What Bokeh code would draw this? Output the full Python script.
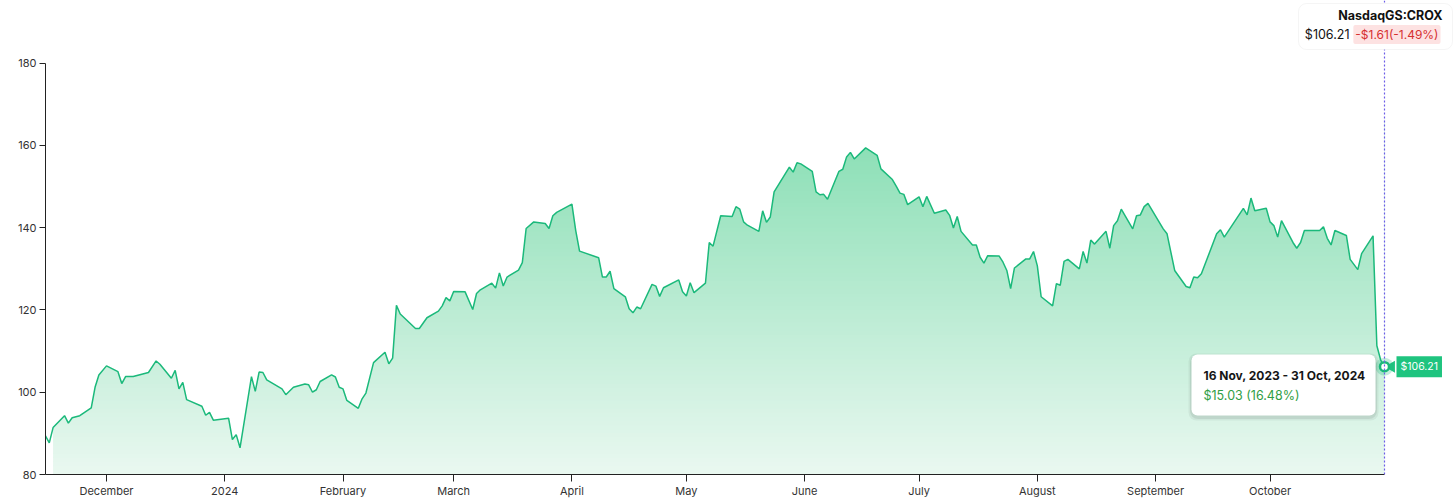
from datetime import datetime, timedelta
import numpy as np
from bokeh.plotting import figure
from bokeh.models import ColumnDataSource, Range1d, FixedTicker, Span, Label, BoxAnnotation
from bokeh.embed import file_html
from bokeh.resources import INLINE

# ---------------- data ----------------
dates = [
    "2023-11-15", "2023-11-16", "2023-11-17", "2023-11-20", "2023-11-21", "2023-11-22", "2023-11-24",
    "2023-11-27", "2023-11-28", "2023-11-29", "2023-12-01", "2023-12-04", "2023-12-05", "2023-12-06",
    "2023-12-08", "2023-12-12", "2023-12-14", "2023-12-15", "2023-12-18", "2023-12-19", "2023-12-20",
    "2023-12-21", "2023-12-22", "2023-12-26", "2023-12-27", "2023-12-28", "2023-12-29", "2024-01-02",
    "2024-01-03", "2024-01-04", "2024-01-05", "2024-01-08", "2024-01-09", "2024-01-10", "2024-01-11",
    "2024-01-12", "2024-01-16", "2024-01-17", "2024-01-19", "2024-01-22", "2024-01-23", "2024-01-24",
    "2024-01-25", "2024-01-26", "2024-01-29", "2024-01-30", "2024-01-31", "2024-02-01", "2024-02-02",
    "2024-02-05", "2024-02-06", "2024-02-07", "2024-02-09", "2024-02-12", "2024-02-13", "2024-02-14",
    "2024-02-15", "2024-02-16", "2024-02-20", "2024-02-21", "2024-02-23", "2024-02-26", "2024-02-27",
    "2024-02-28", "2024-02-29", "2024-03-01", "2024-03-04", "2024-03-06", "2024-03-07", "2024-03-08",
    "2024-03-11", "2024-03-12", "2024-03-13", "2024-03-14", "2024-03-15", "2024-03-18", "2024-03-19",
    "2024-03-20", "2024-03-22", "2024-03-25", "2024-03-26", "2024-03-27", "2024-03-28", "2024-04-01",
    "2024-04-02", "2024-04-03", "2024-04-08", "2024-04-09", "2024-04-10", "2024-04-11", "2024-04-12",
    "2024-04-15", "2024-04-16", "2024-04-17", "2024-04-18", "2024-04-19", "2024-04-22", "2024-04-23",
    "2024-04-24", "2024-04-25", "2024-04-29", "2024-04-30", "2024-05-01", "2024-05-02", "2024-05-03",
    "2024-05-06", "2024-05-07", "2024-05-08", "2024-05-10", "2024-05-13", "2024-05-14", "2024-05-15",
    "2024-05-16", "2024-05-17", "2024-05-20", "2024-05-21", "2024-05-22", "2024-05-23", "2024-05-24",
    "2024-05-28", "2024-05-29", "2024-05-30", "2024-05-31", "2024-06-03", "2024-06-04", "2024-06-05",
    "2024-06-06", "2024-06-07", "2024-06-10", "2024-06-11", "2024-06-12", "2024-06-13", "2024-06-14",
    "2024-06-17", "2024-06-18", "2024-06-20", "2024-06-21", "2024-06-24", "2024-06-25", "2024-06-26",
    "2024-06-27", "2024-06-28", "2024-07-01", "2024-07-02", "2024-07-03", "2024-07-05", "2024-07-08",
    "2024-07-09", "2024-07-10", "2024-07-11", "2024-07-12", "2024-07-15", "2024-07-16", "2024-07-17",
    "2024-07-18", "2024-07-19", "2024-07-22", "2024-07-23", "2024-07-24", "2024-07-25", "2024-07-26",
    "2024-07-29", "2024-07-30", "2024-07-31", "2024-08-01", "2024-08-02", "2024-08-05", "2024-08-06",
    "2024-08-07", "2024-08-08", "2024-08-09", "2024-08-12", "2024-08-13", "2024-08-14", "2024-08-15",
    "2024-08-16", "2024-08-19", "2024-08-20", "2024-08-21", "2024-08-22", "2024-08-23", "2024-08-26",
    "2024-08-27", "2024-08-28", "2024-08-29", "2024-08-30", "2024-09-03", "2024-09-04", "2024-09-06",
    "2024-09-09", "2024-09-10", "2024-09-11", "2024-09-12", "2024-09-13", "2024-09-17", "2024-09-18",
    "2024-09-19", "2024-09-24", "2024-09-25", "2024-09-26", "2024-09-27", "2024-09-30", "2024-10-01",
    "2024-10-02", "2024-10-03", "2024-10-04", "2024-10-07", "2024-10-08", "2024-10-09", "2024-10-10",
    "2024-10-11", "2024-10-14", "2024-10-15", "2024-10-16", "2024-10-17", "2024-10-18", "2024-10-21",
    "2024-10-22", "2024-10-24", "2024-10-25", "2024-10-28", "2024-10-29", "2024-10-30", "2024-10-31",
]
prices = [
    89.4, 87.7, 91.4, 94.3, 92.5, 93.8, 94.3,
    96.2, 101.2, 104.2, 106.4, 105.0, 102.1, 103.8,
    103.8, 104.8, 107.6, 106.8, 103.4, 105.3, 100.8,
    102.4, 98.2, 96.6, 94.4, 95.1, 93.2, 93.7,
    88.5, 89.7, 86.5, 103.8, 100.2, 104.9, 104.8,
    103.0, 100.8, 99.4, 101.2, 102.0, 101.8, 100.0,
    100.6, 102.6, 104.2, 103.7, 101.2, 100.8, 98.0,
    96.1, 98.4, 99.8, 107.2, 109.7, 106.9, 108.3,
    121.1, 119.0, 115.5, 115.5, 118.1, 119.7, 121.0,
    123.0, 122.2, 124.5, 124.4, 120.1, 124.0, 124.9,
    126.5, 125.3, 129.0, 125.8, 128.0, 129.7, 131.5,
    139.8, 141.4, 141.0, 139.8, 142.9, 143.7, 145.7,
    139.3, 134.3, 132.7, 128.0, 128.0, 129.4, 125.2,
    123.2, 120.3, 119.3, 120.7, 120.3, 126.2, 125.8,
    123.3, 125.4, 127.3, 124.4, 123.4, 126.6, 124.2,
    126.5, 136.4, 135.5, 142.9, 142.7, 145.1, 144.5,
    141.4, 140.6, 139.1, 144.1, 141.3, 142.6, 148.7,
    154.7, 153.5, 155.8, 155.5, 153.7, 148.7, 148.0,
    148.1, 146.9, 153.7, 154.2, 157.2, 158.3, 156.7,
    159.4, 158.8, 157.6, 154.3, 151.7, 150.1, 148.4,
    148.1, 145.6, 147.5, 145.1, 147.6, 143.5, 144.3,
    143.0, 139.9, 142.7, 139.1, 135.8, 135.8, 132.8,
    131.4, 133.2, 133.1, 131.6, 129.6, 125.2, 130.2,
    132.4, 132.4, 134.2, 130.7, 123.2, 121.0, 126.4,
    126.0, 131.8, 132.3, 130.0, 134.2, 131.4, 137.0,
    136.0, 139.1, 135.0, 140.5, 141.7, 144.5, 139.7,
    142.9, 143.1, 145.1, 145.9, 139.7, 138.5, 129.6,
    125.7, 125.4, 128.0, 127.8, 128.8, 138.5, 139.5,
    137.7, 144.7, 143.1, 147.2, 144.1, 144.7, 141.4,
    140.5, 137.7, 141.7, 136.4, 135.0, 136.4, 139.3,
    139.3, 139.3, 140.2, 137.4, 135.8, 139.3, 138.1,
    132.3, 129.8, 133.7, 138.0, 111.3, 107.82, 106.21,
]
month_ticks = ["2023-12-01", "2024-01-01", "2024-02-01", "2024-03-01", "2024-04-01", "2024-05-01",
               "2024-06-01", "2024-07-01", "2024-08-01", "2024-09-01", "2024-10-01"]
month_labels = ["December", "2024", "February", "March", "April", "May",
                "June", "July", "August", "September", "October"]
y_ticks = [80, 100, 120, 140, 160, 180]

symbol_text = "NasdaqGS:CROX"
last_price_text = "$106.21"
change_text = "-$1.61(-1.49%)"
period_text = "16 Nov, 2023 - 31 Oct, 2024"
period_change_text = "$15.03 (16.48%)"

# ---------------- helpers ----------------
EPOCH = datetime(1970, 1, 1)
def to_ms(d):
    return (d - EPOCH).total_seconds() * 1000.0

dt = [datetime.fromisoformat(d) for d in dates]
vals = np.array(prices)

W, H = 1456, 500
LEFT, BOTTOM = 45, 23
FRAME_H = H - BOTTOM          # frame runs from the top of the canvas to y=477
PX_DAY = (1384 - 106) / 335.0  # Dec 1 at x=106, Oct 31 at x=1384
PX_UNIT = 4.14                 # 180 at y=63, 80 at y=477

x_start = datetime(2023, 12, 1) - timedelta(days=(106 - LEFT) / PX_DAY)
x_end = dt[-1] + timedelta(days=(W - 1384) / PX_DAY)
y_top = 80 + FRAME_H / PX_UNIT

GREEN = "#1bb97b"
FONT = "Inter"

p = figure(width=W, height=H, x_axis_type="datetime",
           x_range=Range1d(x_start, x_end), y_range=Range1d(80, y_top),
           output_backend="svg", toolbar_location=None,
           min_border_left=LEFT, min_border_right=0, min_border_top=0, min_border_bottom=BOTTOM)
p.outline_line_color = None
p.xgrid.visible = False
p.ygrid.visible = False
p.background_fill_color = "white"
p.border_fill_color = "white"

# gradient fill: horizontal colour bands, masked above the price line
levels = np.arange(80.0, 166.0, 1.0)
bot_rgb = np.array([233, 248, 240])
top_rgb = np.array([140, 223, 182])
tt = np.clip((levels - 80.0) / 80.0, 0, 1.05)
cols = ["#%02x%02x%02x" % tuple(np.clip((bot_rgb + (top_rgb - bot_rgb) * t).round().astype(int), 0, 255)) for t in tt]
band_src = ColumnDataSource(dict(left=[dt[2]] * len(levels), right=[dt[-1]] * len(levels),
                                 bottom=levels, top=levels + 1.3, color=cols))
p.quad(left="left", right="right", bottom="bottom", top="top", fill_color="color",
       line_color=None, source=band_src)

src = ColumnDataSource(dict(x=dt, y=vals, top=[y_top + 5] * len(vals)))
p.varea(x="x", y1="y", y2="top", fill_color="white", source=src)
p.line(x="x", y="y", line_color=GREEN, line_width=1.5, source=src)

# axes
ya = p.yaxis[0]
ya.ticker = FixedTicker(ticks=y_ticks)
ya.bounds = (80, 180)
ya.axis_line_color = "#222222"
ya.major_tick_line_color = "#222222"
ya.major_tick_out = 6
ya.major_tick_in = 0
ya.minor_tick_line_color = None
ya.major_label_text_font = FONT
ya.major_label_text_font_size = "11px"
ya.major_label_text_color = "#333333"
ya.major_label_standoff = 3

tick_ms = [to_ms(datetime.fromisoformat(d)) for d in month_ticks]
xa = p.xaxis[0]
xa.ticker = FixedTicker(ticks=tick_ms)
xa.major_label_overrides = {m: lab for m, lab in zip(tick_ms, month_labels)}
xa.bounds = (x_start, dt[-1])
xa.axis_line_color = "#222222"
xa.major_tick_line_color = "#222222"
xa.major_tick_out = 7
xa.major_tick_in = 0
xa.minor_tick_line_color = None
xa.major_label_text_font = FONT
xa.major_label_text_font_size = "11px"
xa.major_label_text_color = "#333333"
xa.major_label_standoff = 2

# cursor line + end marker
p.add_layout(Span(location=to_ms(dt[-1]), dimension="height", line_color="#6c5ce7",
                  line_dash="2 2", line_width=1.2))
p.scatter([dt[-1] + timedelta(days=7 / PX_DAY)], [vals[-1]], marker="triangle", size=12,
          angle=np.pi / 2, fill_color="#1fc47f", line_color=None)
p.scatter([dt[-1]], [vals[-1]], size=18, fill_color=GREEN, fill_alpha=0.25, line_color=None)
p.scatter([dt[-1]], [vals[-1]], size=9, fill_color="white", line_color=GREEN, line_width=2.5)
p.add_layout(Label(x=to_ms(dt[-1]), y=vals[-1], text=last_price_text, x_offset=12,
                   text_baseline="middle", text_align="left", text_color="white",
                   text_font=FONT, text_font_size="10.5px", background_fill_color="#1fc47f",
                   padding=4))

# canvas pixel (top-left origin) -> frame screen units
def sx(x):
    return x - LEFT
def sy(y):
    return FRAME_H - y

def box(l, r, t, b, **kw):
    return BoxAnnotation(left=sx(l), right=sx(r), top=sy(t), bottom=sy(b),
                         left_units="screen", right_units="screen",
                         top_units="screen", bottom_units="screen", **kw)

# period tooltip
for off, a in [(3, 0.05), (1.5, 0.07)]:
    p.add_layout(box(1191 - off, 1375 + off, 357 - off + 2, 418 + off + 2,
                     fill_color="black", fill_alpha=a, line_color=None, border_radius=8))
p.add_layout(box(1191, 1375, 357, 418, fill_color="white", fill_alpha=1, line_color=None, border_radius=6))
p.add_layout(Label(x=sx(1203), y=sy(378), x_units="screen", y_units="screen", text=period_text,
                   text_font=FONT, text_font_size="12px", text_font_style="bold", text_color="#161616",
                   text_baseline="middle"))
p.add_layout(Label(x=sx(1203), y=sy(398), x_units="screen", y_units="screen", text=period_change_text,
                   text_font=FONT, text_font_size="12.5px", text_color="#2f9e44", text_baseline="middle"))

# ticker box top right
p.add_layout(box(1298, 1452, 6, 52, fill_color="white", fill_alpha=1, line_color="#dddddd",
                 line_width=1, border_radius=8))
p.add_layout(Label(x=sx(1442), y=sy(18), x_units="screen", y_units="screen", text=symbol_text,
                   text_font=FONT, text_font_size="12.5px", text_font_style="bold", text_color="#111111",
                   text_align="right", text_baseline="middle"))
p.add_layout(Label(x=sx(1349), y=sy(37), x_units="screen", y_units="screen", text=last_price_text,
                   text_font=FONT, text_font_size="12.5px", text_color="#111111",
                   text_align="right", text_baseline="middle"))
p.add_layout(Label(x=sx(1440), y=sy(37), x_units="screen", y_units="screen", text=change_text,
                   text_font=FONT, text_font_size="12px", text_color="#d63031",
                   text_align="right", text_baseline="middle", background_fill_color="#fde2e2",
                   padding=2, border_radius=2))

open("out.html", "w").write(file_html(p, INLINE))
